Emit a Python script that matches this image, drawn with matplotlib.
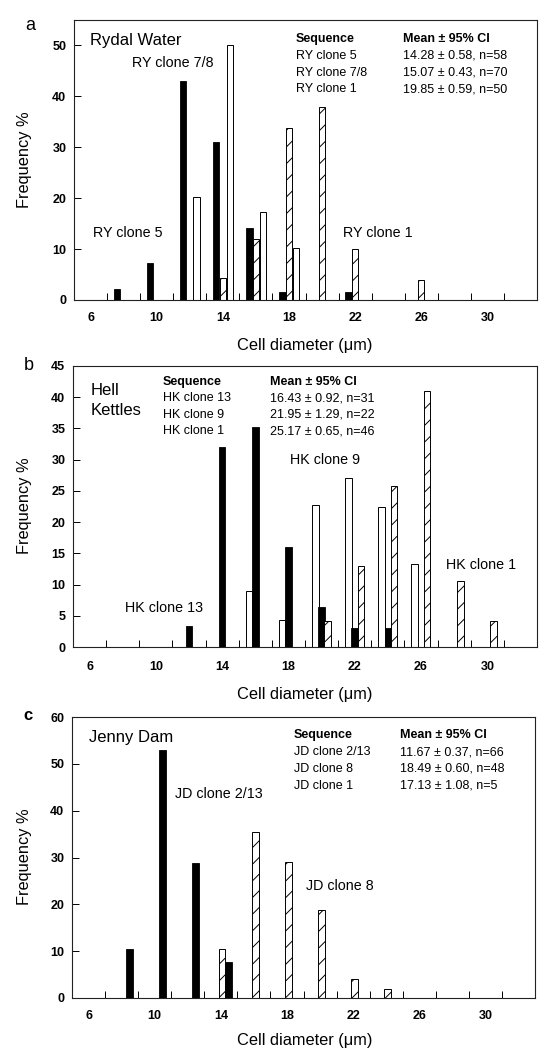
import numpy as np
import matplotlib
matplotlib.use('Agg')
import matplotlib.pyplot as plt

plt.rcParams['font.family'] = ['Liberation Sans', 'DejaVu Sans']
plt.rcParams['hatch.linewidth'] = 0.7

# ---- data (frequency %, per 2 um size class) ----
# a  Rydal Water
ry5_x = [8, 10, 12, 14, 16, 18, 22]
ry5_y = [2.1, 7.3, 43.0, 31.0, 14.1, 1.5, 1.5]
ry78_x = [12, 14, 16, 18]
ry78_y = [20.3, 50.0, 17.2, 10.2]
ry1_x = [14, 16, 18, 20, 22, 26]
ry1_y = [4.3, 11.9, 33.7, 38.0, 10.0, 3.9]

# b  Hell Kettles
hk13_x = [12, 14, 16, 18, 20, 22, 24]
hk13_y = [3.3, 32.0, 35.3, 16.0, 6.4, 3.1, 3.1]
hk9_x = [16, 18, 20, 22, 24, 26]
hk9_y = [8.9, 4.4, 22.7, 27.0, 22.4, 13.3]
hk1_x = [20, 22, 24, 26, 28, 30]
hk1_y = [4.2, 13.0, 25.8, 41.0, 10.6, 4.1]

# c  Jenny Dam
jd213_x = [8, 10, 12, 14]
jd213_y = [10.5, 52.9, 28.8, 7.6]
jd8_x = [14, 16, 18, 20, 22, 24]
jd8_y = [10.4, 35.5, 29.1, 18.7, 4.1, 2.0]

ry_table = [('RY clone 5', '14.28 \u00b1 0.58, n=58'),
            ('RY clone 7/8', '15.07 \u00b1 0.43, n=70'),
            ('RY clone 1', '19.85 \u00b1 0.59, n=50')]
hk_table = [('HK clone 13', '16.43 \u00b1 0.92, n=31'),
            ('HK clone 9', '21.95 \u00b1 1.29, n=22'),
            ('HK clone 1', '25.17 \u00b1 0.65, n=46')]
jd_table = [('JD clone 2/13', '11.67 \u00b1 0.37, n=66'),
            ('JD clone 8', '18.49 \u00b1 0.60, n=48'),
            ('JD clone 1', '17.13 \u00b1 1.08, n=5')]

xlabels = [6, 10, 14, 18, 22, 26, 30]
xminor = list(range(7, 32, 2))

W, H = 554, 1064
fig = plt.figure(figsize=(W / 100, H / 100), dpi=100)

BW = 0.39
solid = dict(color='black', edgecolor='black', linewidth=0.6)
empty = dict(color='white', edgecolor='black', linewidth=0.7)
hatched = dict(color='white', edgecolor='black', linewidth=0.7, hatch='//')


def ftext(px, py, s, **kw):
    fig.text(px / W, 1 - py / H, s, **kw)


def panel(left, top, right, bottom, ymax, ystep, xpad):
    ax = fig.add_axes([left / W, 1 - bottom / H, (right - left) / W, (bottom - top) / H])
    ax.set_xlim(5, 33)
    ax.set_ylim(0, ymax)
    ax.set_xticks(xlabels)
    ax.set_xticklabels([str(v) for v in xlabels], fontsize=9, fontweight='bold')
    ax.set_xticks(xminor, minor=True)
    ax.tick_params(axis='x', which='major', length=0, pad=xpad)
    ax.tick_params(axis='x', which='minor', direction='in', length=5, width=0.7)
    ax.set_yticks(np.arange(0, ymax + 0.1, ystep))
    ax.set_yticklabels([str(int(v)) for v in np.arange(0, ymax + 0.1, ystep)],
                       fontsize=9, fontweight='bold')
    ax.tick_params(axis='y', direction='in', length=5, width=0.7, pad=5.5)
    for sp in ax.spines.values():
        sp.set_linewidth(0.8)
        sp.set_color('#222222')
    return ax


def table(ax, x1, x2, y0, dy, rows):
    ax.text(x1, y0, 'Sequence', fontsize=9, fontweight='bold', va='center')
    ax.text(x2, y0, 'Mean \u00b1 95% CI', fontsize=9, fontweight='bold', va='center')
    for i, (a, b) in enumerate(rows):
        ax.text(x1, y0 - (i + 1) * dy, a, fontsize=9, va='center')
        ax.text(x2, y0 - (i + 1) * dy, b, fontsize=9, va='center')


# ---- a ----
ax = panel(74, 20, 537, 300, 55, 10, 8.5)
ax.bar(np.array(ry5_x) - 0.40, ry5_y, BW, **solid)
ax.bar(np.array(ry1_x) + 0.0, ry1_y, BW, **hatched)
ax.bar(np.array(ry78_x) + 0.42, ry78_y, BW, **empty)
ax.text(5.96, 50.9, 'Rydal Water', fontsize=12, va='center')
ax.text(8.48, 46.5, 'RY clone 7/8', fontsize=10.3, va='center')
ax.text(6.17, 13.1, 'RY clone 5', fontsize=10.3, va='center')
ax.text(21.28, 13.1, 'RY clone 1', fontsize=10.3, va='center')
table(ax, 18.41, 24.88, 51.2, 3.27, ry_table)
ftext(30, 25, 'a', fontsize=13, ha='center', va='center')
ftext(305, 345.5, 'Cell diameter (\u03bcm)', fontsize=11.8, ha='center', va='center')
ftext(25, 160, 'Frequency %', fontsize=11.8, ha='center', va='center', rotation=90)

# ---- b ----
ax = panel(73, 366, 537, 647, 45, 5, 10)
ax.bar(np.array(hk9_x) - 0.38, hk9_y, BW, **empty)
ax.bar(np.array(hk13_x) + 0.0, hk13_y, BW, **solid)
ax.bar(np.array(hk1_x) + 0.37, hk1_y, BW, **hatched)
ax.text(6.09, 41.1, 'Hell', fontsize=12, va='center')
ax.text(6.09, 37.8, 'Kettles', fontsize=12, va='center')
ax.text(18.07, 30.0, 'HK clone 9', fontsize=10.3, va='center')
ax.text(8.16, 6.3, 'HK clone 13', fontsize=10.3, va='center')
ax.text(27.52, 13.1, 'HK clone 1', fontsize=10.3, va='center')
table(ax, 10.44, 16.9, 42.5, 2.65, hk_table)
ftext(28.5, 365, 'b', fontsize=13, ha='center', va='center')
ftext(305, 695, 'Cell diameter (\u03bcm)', fontsize=11.8, ha='center', va='center')
ftext(25, 506, 'Frequency %', fontsize=11.8, ha='center', va='center', rotation=90)

# ---- c ----
ax = panel(72, 717, 535, 998, 60, 10, 8.5)
ax.bar(np.array(jd8_x) + 0.07, jd8_y, 0.42, **hatched)
ax.bar(np.array(jd213_x) + 0.49, jd213_y, 0.42, **solid)
ax.text(6.0, 55.6, 'Jenny Dam', fontsize=12, va='center')
ax.text(11.24, 43.6, 'JD clone 2/13', fontsize=10.3, va='center')
ax.text(19.13, 23.9, 'JD clone 8', fontsize=10.3, va='center')
table(ax, 18.43, 24.86, 56.1, 3.6, jd_table)
ftext(27.5, 715, 'c', fontsize=12, fontweight='bold', ha='center', va='center')
ftext(305, 1041, 'Cell diameter (\u03bcm)', fontsize=11.8, ha='center', va='center')
ftext(25, 857, 'Frequency %', fontsize=11.8, ha='center', va='center', rotation=90)

fig.savefig('out.png', dpi=100)
